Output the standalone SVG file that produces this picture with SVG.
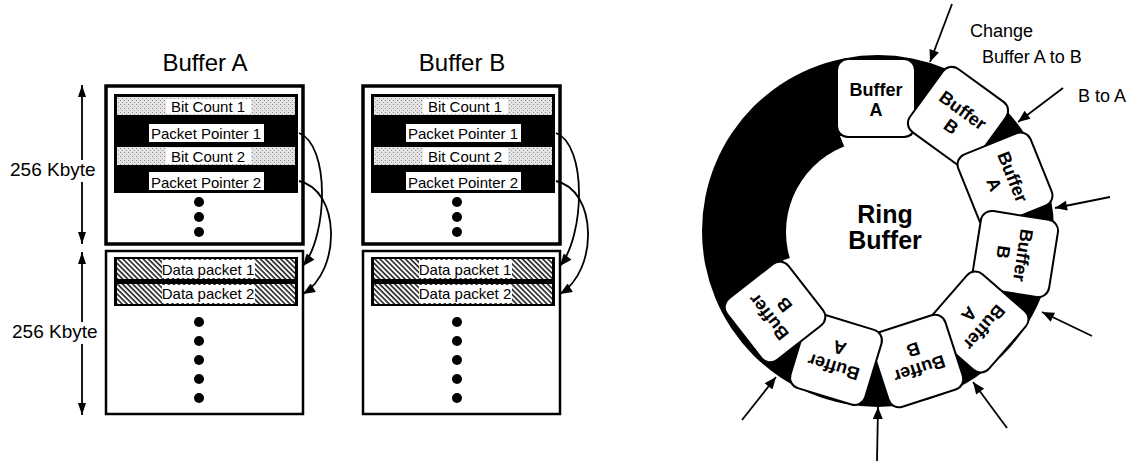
<svg xmlns="http://www.w3.org/2000/svg" width="1131" height="461" viewBox="0 0 1131 461">
<defs>
<style>
text{font-family:"Liberation Sans",Arial,Helvetica,sans-serif;fill:#000}
.title{font-size:24px;text-anchor:middle}
.row{font-size:15px;text-anchor:middle}
.dim{font-size:19px}
.lbl{font-size:18px}
.bx{font-size:18px;font-weight:bold;text-anchor:middle}
.ring{font-size:25px;font-weight:bold;text-anchor:middle}
.frame{fill:#fff;stroke:#000;stroke-width:3.5}
.frame2{fill:#fff;stroke:#000;stroke-width:2.5}
.blk{fill:#000}
.wl{fill:#fff}
.dot{fill:#000}
.con{fill:none;stroke:#000;stroke-width:1.8}
.box{fill:#fff;stroke:#000;stroke-width:2}
</style>
<pattern id="stip" width="4" height="4" patternUnits="userSpaceOnUse">
<rect width="4" height="4" fill="#e4e4e4"/>
<rect x="0" y="0" width="1" height="1" fill="#8a8a8a"/>
<rect x="2" y="2" width="1" height="1" fill="#a0a0a0"/>
</pattern>
<pattern id="hatch" width="3.6" height="3.6" patternUnits="userSpaceOnUse" patternTransform="rotate(-45)">
<rect width="3.6" height="3.6" fill="#fff"/>
<line x1="1" y1="0" x2="1" y2="3.6" stroke="#000" stroke-width="1.4"/>
</pattern>
<marker id="ah" viewBox="0 0 12 10" refX="12" refY="5" markerWidth="13" markerHeight="10" markerUnits="userSpaceOnUse" orient="auto-start-reverse">
<path d="M0,0 L12,5 L0,10 z" fill="#000"/>
</marker>
<marker id="ahs" viewBox="0 0 12 8" refX="12" refY="4" markerWidth="12" markerHeight="8" markerUnits="userSpaceOnUse" orient="auto-start-reverse">
<path d="M0,0 L12,4 L0,8 z" fill="#000"/>
</marker>
</defs>
<rect width="1131" height="461" fill="#fff"/>

<g id="bufferA">
<text class="title" x="205" y="71">Buffer A</text>
<rect class="frame" x="106" y="86" width="197" height="158"/>
<rect class="frame2" x="106" y="251" width="197" height="163"/>
<rect class="blk" x="114" y="94" width="184" height="99"/>
<rect x="117" y="97" width="178" height="18" fill="url(#stip)"/>
<rect x="117" y="147" width="178" height="18" fill="url(#stip)"/>
<rect class="wl" x="166" y="99" width="85" height="15"/>
<rect class="wl" x="149" y="124" width="115" height="18"/>
<rect class="wl" x="166" y="148" width="85" height="16"/>
<rect class="wl" x="149" y="172" width="115" height="18"/>
<text class="row" x="208" y="112">Bit  Count 1</text>
<text class="row" x="206" y="139">Packet  Pointer 1</text>
<text class="row" x="208" y="162">Bit  Count 2</text>
<text class="row" x="206" y="188">Packet  Pointer 2</text>
<circle class="dot" cx="199" cy="202" r="5"/>
<circle class="dot" cx="199" cy="217" r="5"/>
<circle class="dot" cx="199" cy="232" r="5"/>
<rect class="blk" x="114" y="257" width="184" height="49"/>
<rect x="117" y="259" width="178" height="20" fill="url(#hatch)"/>
<rect x="117" y="284" width="178" height="20" fill="url(#hatch)"/>
<rect class="wl" x="162" y="260" width="93" height="18"/>
<rect class="wl" x="162" y="285" width="93" height="18"/>
<text class="row" x="208" y="275">Data packet 1</text>
<text class="row" x="208" y="299">Data packet 2</text>
<circle class="dot" cx="199" cy="322" r="5"/>
<circle class="dot" cx="199" cy="341" r="5"/>
<circle class="dot" cx="199" cy="360" r="5"/>
<circle class="dot" cx="199" cy="379" r="5"/>
<circle class="dot" cx="199" cy="398" r="5"/>
</g>

<g id="bufferB" transform="translate(257,0)">
<text class="title" x="205" y="71">Buffer B</text>
<rect class="frame" x="106" y="86" width="197" height="158"/>
<rect class="frame2" x="106" y="251" width="197" height="163"/>
<rect class="blk" x="114" y="94" width="184" height="99"/>
<rect x="117" y="97" width="178" height="18" fill="url(#stip)"/>
<rect x="117" y="147" width="178" height="18" fill="url(#stip)"/>
<rect class="wl" x="166" y="99" width="85" height="15"/>
<rect class="wl" x="149" y="124" width="115" height="18"/>
<rect class="wl" x="166" y="148" width="85" height="16"/>
<rect class="wl" x="149" y="172" width="115" height="18"/>
<text class="row" x="208" y="112">Bit  Count 1</text>
<text class="row" x="206" y="139">Packet  Pointer 1</text>
<text class="row" x="208" y="162">Bit  Count 2</text>
<text class="row" x="206" y="188">Packet  Pointer 2</text>
<circle class="dot" cx="200" cy="202" r="5"/>
<circle class="dot" cx="200" cy="217" r="5"/>
<circle class="dot" cx="200" cy="232" r="5"/>
<rect class="blk" x="114" y="257" width="184" height="49"/>
<rect x="117" y="259" width="178" height="20" fill="url(#hatch)"/>
<rect x="117" y="284" width="178" height="20" fill="url(#hatch)"/>
<rect class="wl" x="162" y="260" width="93" height="18"/>
<rect class="wl" x="162" y="285" width="93" height="18"/>
<text class="row" x="208" y="275">Data packet 1</text>
<text class="row" x="208" y="299">Data packet 2</text>
<circle class="dot" cx="200" cy="322" r="5"/>
<circle class="dot" cx="200" cy="341" r="5"/>
<circle class="dot" cx="200" cy="360" r="5"/>
<circle class="dot" cx="200" cy="379" r="5"/>
<circle class="dot" cx="200" cy="398" r="5"/>
</g>

<g id="ringBuffer">
<circle cx="878" cy="231" r="176" fill="#000"/>
<circle cx="878" cy="232" r="92" fill="#fff"/>
<path fill="#fff" d="M878 231 L840 136 L912 136 L906.5 126.6 L964.8 168.9 L956.3 160.9 L983.3 227.6 L983.1 212.5 L971.8 283.6 L972.9 269.9 L925.7 324.2 L939.5 313.7 L871 336 L881.5 333.2 L812.7 312.1 L827.1 317 L782.8 260.2 Z"/>
<g id="rb1" transform="translate(876,98)"><rect class="box" x="-39" y="-39" width="78" height="78" rx="11"/><text class="bx" x="0" y="-2">Buffer</text><text class="bx" x="0" y="18">A</text></g>
<g id="rb2" transform="translate(958,117) rotate(36)"><rect class="box" x="-39" y="-39" width="78" height="78" rx="11"/><text class="bx" x="0" y="-2">Buffer</text><text class="bx" x="0" y="18">B</text></g>
<g id="rb3" transform="translate(1005,180) rotate(68)"><rect class="box" x="-39" y="-39" width="78" height="78" rx="11"/><text class="bx" x="0" y="-2">Buffer</text><text class="bx" x="0" y="18">A</text></g>
<g id="rb4" transform="translate(1015,254) rotate(99)"><rect class="box" x="-39" y="-39" width="78" height="78" rx="11"/><text class="bx" x="0" y="-2">Buffer</text><text class="bx" x="0" y="18">B</text></g>
<g id="rb5" transform="translate(978,322) rotate(131)"><rect class="box" x="-39" y="-39" width="78" height="78" rx="11"/><text class="bx" x="0" y="-2">Buffer</text><text class="bx" x="0" y="18">A</text></g>
<g id="rb6" transform="translate(917,361) rotate(162)"><rect class="box" x="-39" y="-39" width="78" height="78" rx="11"/><text class="bx" x="0" y="-2">Buffer</text><text class="bx" x="0" y="18">B</text></g>
<g id="rb7" transform="translate(836,359) rotate(197)"><rect class="box" x="-39" y="-39" width="78" height="78" rx="11"/><text class="bx" x="0" y="-2">Buffer</text><text class="bx" x="0" y="18">A</text></g>
<g id="rb8" transform="translate(775,312) rotate(232)"><rect class="box" x="-39" y="-39" width="78" height="78" rx="11"/><text class="bx" x="0" y="-2">Buffer</text><text class="bx" x="0" y="18">B</text></g>
<text class="ring" x="885" y="223">Ring</text>
<text class="ring" x="885" y="249">Buffer</text>
</g>

<g id="labels">
<text class="lbl" x="970" y="37">Change</text>
<text class="lbl" x="982" y="63">Buffer  A to B</text>
<text class="lbl" x="1078" y="102">B to A</text>
</g>

<g id="connectors">
<line class="con" x1="82" y1="85" x2="82" y2="244" marker-start="url(#ahs)" marker-end="url(#ahs)"/>
<line class="con" x1="82" y1="252" x2="82" y2="415" marker-start="url(#ahs)" marker-end="url(#ahs)"/>
<path class="con" d="M299 133 C330 145, 328 235, 303 266" marker-end="url(#ah)"/>
<path class="con" d="M299 181 C340 190, 342 270, 303 294" marker-end="url(#ah)"/>
<path class="con" d="M556 133 C587 145, 585 235, 560 266" marker-end="url(#ah)"/>
<path class="con" d="M556 181 C597 190, 599 270, 560 294" marker-end="url(#ah)"/>
<line class="con" x1="952" y1="4" x2="930" y2="62" marker-end="url(#ah)"/>
<line class="con" x1="1063" y1="88" x2="1018" y2="122" marker-end="url(#ah)"/>
<line class="con" x1="1110" y1="197" x2="1055" y2="208" marker-end="url(#ah)"/>
<line class="con" x1="1092" y1="336" x2="1042" y2="312" marker-end="url(#ah)"/>
<line class="con" x1="1007" y1="428" x2="973" y2="382" marker-end="url(#ah)"/>
<line class="con" x1="877" y1="461" x2="878" y2="407" marker-end="url(#ah)"/>
<line class="con" x1="742" y1="420" x2="776" y2="377" marker-end="url(#ah)"/>
</g>

<g id="dimLabels">
<rect x="8" y="160" width="92" height="22" fill="#fff"/>
<text class="dim" x="10" y="176">256 Kbyte</text>
<rect x="10" y="322" width="92" height="22" fill="#fff"/>
<text class="dim" x="12" y="338">256 Kbyte</text>
</g>
</svg>
